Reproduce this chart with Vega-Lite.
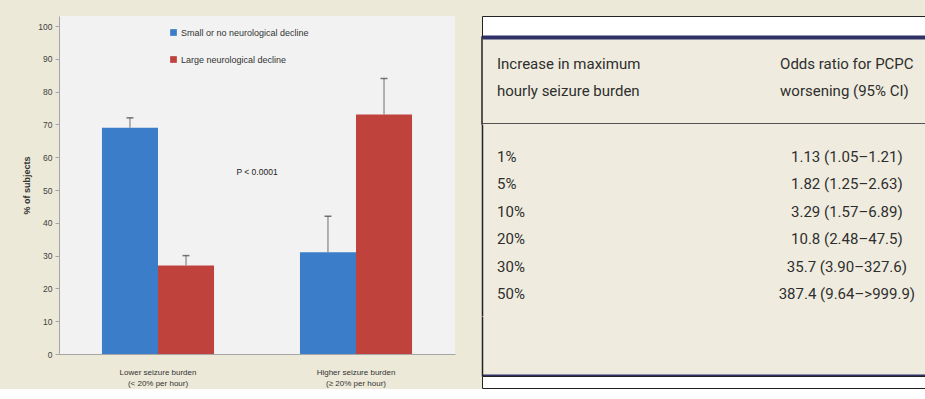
{
  "$schema": "https://vega.github.io/schema/vega-lite/v6.json",
  "background": "#ECE9D8",
  "padding": {"left": 22, "top": 15, "right": 0, "bottom": 0},
  "bounds": "flush",
  "spacing": 27,
  "config": {
    "view": {"stroke": null},
    "font": "Liberation Sans",
    "axisY": {"grid": false, "labelOverlap": false, "tickCount": 11, "domainColor": "#A6A6A6", "tickColor": "#A6A6A6", "tickSize": 4, "labelFontSize": 8.5, "labelColor": "#404040", "labelPadding": 3, "titleFontSize": 9, "titleFontWeight": "bold", "titleColor": "#333333", "titlePadding": 6}
  },
  "datasets": {
    "bars": [
      {"group": "Lower seizure burden (< 20% per hour)", "outcome": "Small or no neurological decline", "pct": 69, "upper": 72},
      {"group": "Lower seizure burden (< 20% per hour)", "outcome": "Large neurological decline", "pct": 27, "upper": 30},
      {"group": "Higher seizure burden (≥ 20% per hour)", "outcome": "Small or no neurological decline", "pct": 31, "upper": 42},
      {"group": "Higher seizure burden (≥ 20% per hour)", "outcome": "Large neurological decline", "pct": 73, "upper": 84}
    ],
    "table": [
      {"inc": "1%", "or": "1.13 (1.05–1.21)"},
      {"inc": "5%", "or": "1.82 (1.25–2.63)"},
      {"inc": "10%", "or": "3.29 (1.57–6.89)"},
      {"inc": "20%", "or": "10.8 (2.48–47.5)"},
      {"inc": "30%", "or": "35.7 (3.90–327.6)"},
      {"inc": "50%", "or": "387.4 (9.64–>999.9)"}
    ],
    "header": [
      {"col": "left", "text": "Increase in maximum\nhourly seizure burden"},
      {"col": "right", "text": "Odds ratio for PCPC\nworsening (95% CI)"}
    ]
  },
  "hconcat": [
    {
      "width": 396,
      "height": 338,
      "view": {"fill": "#F2F2F2", "stroke": null},
      "layer": [
        {
          "data": {"name": "bars"},
          "mark": {"type": "bar"},
          "encoding": {
            "x": {
              "field": "group", "type": "nominal",
              "scale": {"domain": ["Lower seizure burden (< 20% per hour)", "Higher seizure burden (≥ 20% per hour)"], "paddingInner": 0.434, "paddingOuter": 0.217},
              "axis": {
                "title": null, "labelAngle": 0,
                "labelExpr": "split(replace(datum.label, ' (', '|('), '|')",
                "labelFontSize": 8, "labelLineHeight": 11, "labelColor": "#333333", "labelPadding": 14,
                "domainColor": "#A6A6A6", "ticks": false
              }
            },
            "xOffset": {"field": "outcome", "type": "nominal", "scale": {"domain": ["Small or no neurological decline", "Large neurological decline"], "paddingInner": 0, "paddingOuter": 0}},
            "y": {
              "field": "pct", "type": "quantitative", "title": "% of subjects",
              "scale": {"domain": [0, 103.05], "nice": false, "zero": false},
              "axis": {"values": [0, 10, 20, 30, 40, 50, 60, 70, 80, 90, 100]}
            },
            "color": {
              "field": "outcome", "type": "nominal",
              "scale": {"domain": ["Small or no neurological decline", "Large neurological decline"], "range": ["#3C7DC9", "#C0423C"]},
              "legend": {
                "orient": "none", "legendX": 110, "legendY": 12, "title": null, "padding": 0,
                "symbolType": "square", "symbolSize": 45, "symbolStrokeWidth": 0,
                "labelFontSize": 9, "labelColor": "#333333", "rowPadding": 17, "labelOffset": 3, "labelLimit": 300
              }
            }
          }
        },
        {
          "data": {"name": "bars"},
          "mark": {"type": "rule", "color": "#707070", "strokeWidth": 1},
          "encoding": {
            "x": {"field": "group", "type": "nominal"},
            "xOffset": {"field": "outcome", "type": "nominal"},
            "y": {"field": "pct", "type": "quantitative", "title": "% of subjects", "axis": {"values": [0, 10, 20, 30, 40, 50, 60, 70, 80, 90, 100]}},
            "y2": {"field": "upper"}
          }
        },
        {
          "data": {"name": "bars"},
          "mark": {"type": "tick", "color": "#404040", "thickness": 1.5, "size": 7},
          "encoding": {
            "x": {"field": "group", "type": "nominal"},
            "xOffset": {"field": "outcome", "type": "nominal"},
            "y": {"field": "upper", "type": "quantitative", "title": "% of subjects", "axis": {"values": [0, 10, 20, 30, 40, 50, 60, 70, 80, 90, 100]}}
          }
        },
        {
          "data": {"values": [{"note": "P < 0.0001"}]},
          "mark": {"type": "text", "fontSize": 8.5, "color": "#222222", "baseline": "middle", "align": "center"},
          "encoding": {
            "y": {"datum": 55.5, "type": "quantitative", "title": "% of subjects", "axis": {"values": [0, 10, 20, 30, 40, 50, 60, 70, 80, 90, 100]}},
            "text": {"field": "note"}
          }
        }
      ]
    },
    {
      "spacing": 0,
      "bounds": "flush",
      "vconcat": [
        {
          "width": 445, "height": 21,
          "view": {"fill": "#FFFFFF", "stroke": "#222222", "strokeWidth": 1},
          "data": {"values": []},
          "mark": "text",
          "encoding": {}
        },
        {
          "width": 445, "height": 87,
          "view": {"fill": "#EFECDF", "stroke": "#222222", "strokeWidth": 1.5},
          "data": {"name": "header"},
          "mark": {"type": "text", "align": "left", "baseline": "middle", "lineBreak": "\n", "lineHeight": 27, "font": "Roboto", "fontSize": 15, "color": "#2E2E2E", "dy": -16.5},
          "encoding": {
            "x": {
              "field": "col", "type": "nominal",
              "scale": {"type": "point", "domain": ["left", "right"], "padding": 0.286, "align": 0.0926},
              "axis": {"orient": "top", "domain": true, "domainColor": "#2F3068", "domainWidth": 4, "ticks": false, "labels": false, "title": null, "grid": false}
            },
            "text": {"field": "text"}
          }
        },
        {
          "width": 445, "height": 192,
          "view": {"fill": "#EFECDF", "stroke": null},
          "data": {"name": "table"},
          "encoding": {
            "y": {
              "field": "inc", "type": "ordinal",
              "scale": {"type": "point", "domain": ["1%", "5%", "10%", "20%", "30%", "50%"], "padding": 1, "align": 0.6},
              "axis": {"domain": true, "domainColor": "#222222", "domainWidth": 1.5, "labels": false, "ticks": false, "title": null, "grid": false}
            }
          },
          "layer": [
            {
              "mark": {"type": "text", "align": "left", "baseline": "middle", "font": "Roboto", "fontSize": 15, "color": "#2E2E2E"},
              "encoding": {
                "x": {
                  "datum": "left", "type": "nominal",
                  "scale": {"type": "point", "domain": ["left", "right"], "padding": 0.136, "align": 0.158},
                  "axis": null
                },
                "text": {"field": "inc"}
              }
            },
            {
              "mark": {"type": "text", "align": "center", "baseline": "middle", "font": "Roboto", "fontSize": 15, "color": "#2E2E2E"},
              "encoding": {
                "x": {"datum": "right", "type": "nominal"},
                "text": {"field": "or"}
              }
            }
          ]
        },
        {
          "width": 445, "height": 60,
          "view": {"fill": "#EFECDF", "stroke": null},
          "data": {"values": []},
          "mark": "text",
          "encoding": {
            "x": {
              "datum": "left", "type": "nominal",
              "scale": {"type": "point", "domain": ["left", "right"]},
              "axis": {"orient": "bottom", "domain": true, "domainColor": "#2F3068", "domainWidth": 4, "ticks": false, "labels": false, "title": null, "grid": false}
            },
            "y": {
              "datum": 0, "type": "quantitative",
              "axis": {"domain": true, "domainColor": "#222222", "domainWidth": 1.5, "labels": false, "ticks": false, "title": null, "grid": false}
            }
          }
        },
        {
          "width": 445, "height": 12,
          "view": {"fill": "#FFFFFF", "stroke": "#222222", "strokeWidth": 1},
          "data": {"values": []},
          "mark": "text",
          "encoding": {}
        }
      ]
    }
  ]
}
